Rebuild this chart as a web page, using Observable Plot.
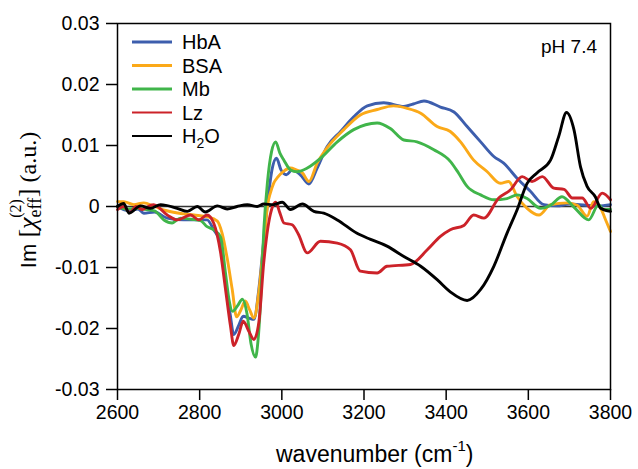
<!DOCTYPE html>
<html><head><meta charset="utf-8">
<script src="https://cdn.jsdelivr.net/npm/d3@7"></script>
<script src="https://cdn.jsdelivr.net/npm/@observablehq/plot@0.6"></script>
<style>html,body{margin:0;padding:0;background:#fff;overflow:hidden}svg{display:block}</style>
</head><body><div id="chart"></div>
<script>
// ---- data ----
const seriesNames = ["HbA", "BSA", "Mb", "Lz", "H2O"];
const seriesColors = ["#3d5ead", "#fba918", "#40b54a", "#cc2229", "#000000"];
const xTicks = [2600, 2800, 3000, 3200, 3400, 3600, 3800];
const yTicks = [-0.03, -0.02, -0.01, 0, 0.01, 0.02, 0.03];
const yTickLabels = ["-0.03", "-0.02", "-0.01", "0", "0.01", "0.02", "0.03"];

const hbaWn = [2600,2615,2630,2650,2664,2690,2721,2761,2800,2818,2834,2851,2863,2875,2883,2895,2906,2920,2932,2944,2956,2966,2976,2987,2998,3011,3025,3045,3066,3086,3110,3143,3175,3208,3248,3297,3320,3346,3386,3419,3451,3484,3516,3540,3573,3605,3638,3670,3700,3740,3770,3800];
const hbaVal = [0,-0.0005,-0.0007,-0.0004,-0.0011,-0.0009,-0.0019,-0.0022,-0.0022,-0.0022,-0.0038,-0.006,-0.012,-0.018,-0.021,-0.0195,-0.018,-0.0183,-0.0185,-0.0136,-0.0055,0.001,0.006,0.0079,0.006,0.0052,0.006,0.0052,0.0037,0.0063,0.0098,0.0123,0.0147,0.0165,0.017,0.0164,0.0168,0.0173,0.0163,0.0155,0.0131,0.0106,0.0082,0.0071,0.0046,0.0025,0.0003,0.0001,0.0004,0.0002,0.0001,0.0003];

const bsaWn = [2600,2615,2640,2664,2690,2720,2760,2786,2820,2843,2855,2867,2879,2890,2900,2911,2922,2932,2944,2956,2966,2972,2980,2990,3005,3021,3035,3050,3066,3086,3110,3151,3191,3232,3272,3305,3338,3378,3410,3435,3467,3500,3532,3552,3573,3597,3626,3654,3695,3719,3743,3759,3776,3790,3800];
const bsaVal = [0.0008,0.0008,0.0003,0.0006,0,-0.0007,-0.0012,-0.0014,-0.0017,-0.0024,-0.0045,-0.0085,-0.0135,-0.0181,-0.017,-0.0155,-0.017,-0.0183,-0.014,-0.006,0.0005,0.0022,0.0038,0.0048,0.0058,0.0063,0.006,0.0055,0.0041,0.0071,0.0096,0.0126,0.015,0.0159,0.0165,0.0161,0.0153,0.0131,0.0123,0.0106,0.0076,0.0057,0.0038,0.0041,0.0016,-0.0003,-0.0014,0.0003,0.0006,0.0002,-0.0016,0.0008,-0.0003,-0.0025,-0.0041];

const mbWn = [2600,2620,2650,2670,2690,2713,2733,2753,2780,2802,2818,2834,2851,2863,2872,2880,2892,2904,2915,2925,2936,2942,2948,2956,2965,2975,2985,2995,3005,3021,3037,3062,3094,3135,3175,3232,3264,3297,3329,3370,3410,3430,3451,3484,3516,3548,3573,3597,3630,3654,3682,3711,3747,3771,3783,3800];
const mbVal = [0,-0.0004,-0.0003,-0.0005,-0.0007,-0.0022,-0.0027,-0.0019,-0.0021,-0.0023,-0.0033,-0.0038,-0.005,-0.011,-0.0155,-0.0172,-0.0163,-0.0152,-0.0175,-0.0225,-0.0247,-0.022,-0.016,-0.004,0.004,0.009,0.0106,0.0088,0.0076,0.006,0.0057,0.0063,0.0079,0.0106,0.0126,0.0137,0.0128,0.0109,0.0106,0.0093,0.0074,0.0055,0.0033,0.0019,0.0011,0.0013,0.0019,0.0013,-0.0003,0.0002,0.0016,-0.0001,-0.0022,0.0003,-0.0005,-0.0005];

const lzWn = [2600,2615,2630,2645,2660,2675,2688,2721,2745,2778,2798,2818,2834,2851,2863,2875,2883,2895,2906,2920,2932,2944,2956,2966,2975,2985,2995,3005,3025,3040,3062,3094,3135,3167,3191,3232,3256,3313,3354,3386,3410,3443,3467,3492,3528,3556,3585,3609,3634,3662,3687,3707,3731,3752,3780,3800];
const lzVal = [-0.0005,0,-0.001,0,-0.0005,0,0.0003,-0.0014,-0.0022,-0.0014,-0.0022,-0.0014,-0.0027,-0.0076,-0.0136,-0.0196,-0.0228,-0.021,-0.0188,-0.0205,-0.0218,-0.019,-0.0092,-0.0035,-0.0005,0.0007,-0.001,-0.0027,-0.003,-0.0045,-0.0076,-0.0057,-0.006,-0.0071,-0.0106,-0.0109,-0.0098,-0.0095,-0.0071,-0.0049,-0.0038,-0.0031,-0.0014,-0.0019,0.0014,0.0027,0.0049,0.0041,0.0049,0.003,0.0028,0.0014,0.0014,-0.0003,0.0022,0.0011];

const h2oWn = [2600,2615,2628,2656,2680,2705,2745,2770,2794,2814,2843,2867,2891,2916,2940,2956,2980,3001,3021,3050,3078,3102,3135,3183,3216,3256,3297,3338,3378,3410,3451,3484,3516,3548,3573,3597,3621,3654,3674,3693,3711,3727,3743,3763,3776,3800];
const h2oVal = [0,0.0005,-0.0011,0.0001,-0.0003,0.0003,-0.0003,-0.0008,0,-0.0009,0.0001,-0.0004,0,0.0003,0,0.0004,0.0003,0.0007,-0.0005,0.0004,-0.0008,-0.0011,-0.0022,-0.0044,-0.0054,-0.0065,-0.0082,-0.0098,-0.012,-0.014,-0.0154,-0.0136,-0.0098,-0.0044,-0.0005,0.0038,0.0055,0.0076,0.0115,0.0154,0.0126,0.0065,0.0033,0.0016,-0.0003,-0.0008];

// ---- build table ----
const seriesWn = [hbaWn, bsaWn, mbWn, lzWn, h2oWn];
const seriesVal = [hbaVal, bsaVal, mbVal, lzVal, h2oVal];
const rows = [];
seriesNames.forEach((name, i) => {
  seriesWn[i].forEach((w, j) => rows.push({series: name, wn: w, val: seriesVal[i][j]}));
});
const yLabelMap = new Map(yTicks.map((t, i) => [t, yTickLabels[i]]));

const sans = "'Liberation Sans', Arial, Helvetica, sans-serif";
const serif = "'Liberation Serif', 'Times New Roman', serif";

const chart = Plot.plot({
  width: 638, height: 469,
  marginLeft: 117, marginRight: 28, marginTop: 23, marginBottom: 80,
  style: {fontFamily: sans, fontSize: "19.5px", background: "#fff", color: "#000"},
  x: {domain: [2600, 3800]},
  y: {domain: [-0.03, 0.03]},
  color: {domain: seriesNames, range: seriesColors},
  marks: [
    Plot.ruleY([0], {stroke: "#333", strokeWidth: 1.5}),
    Plot.line(rows, {x: "wn", y: "val", z: "series", stroke: "series", strokeWidth: 2.9, curve: "monotone-x"}),
    Plot.frame({stroke: "#000", strokeWidth: 1.5}),
    Plot.axisX({ticks: xTicks, tickFormat: d => String(d), tickSize: 11, tickPadding: 5, strokeWidth: 1.5, fontSize: 19.5, label: null}),
    Plot.axisY({ticks: yTicks, tickFormat: d => yLabelMap.get(d), tickSize: 11, tickPadding: 7, strokeWidth: 1.5, fontSize: 19.5, label: null})
  ]
});
document.getElementById("chart").appendChild(chart);

// ---- annotations: legend, axis titles, pH ----
const svg = d3.select(chart);
const legendYs = [42, 65.5, 89, 112.5, 136];
const legendWidths = [3, 3, 3, 2.2, 2.2];
const lg = svg.append("g").attr("text-anchor", "start");
seriesNames.forEach((name, i) => {
  lg.append("line").attr("x1", 132).attr("x2", 172).attr("y1", legendYs[i]).attr("y2", legendYs[i])
    .attr("stroke", seriesColors[i]).attr("stroke-width", legendWidths[i]);
  const t = lg.append("text").attr("x", 182).attr("y", legendYs[i] + 7)
    .attr("text-anchor", "start")
    .attr("font-family", sans).attr("font-size", 20).attr("fill", "#000");
  if (name === "H2O") {
    t.append("tspan").text("H");
    t.append("tspan").attr("font-size", 14).attr("dy", 5).text("2");
    t.append("tspan").attr("dy", -5).text("O");
  } else t.text(name);
});

svg.append("text").attr("x", 597).attr("y", 53).attr("text-anchor", "end")
  .attr("font-family", sans).attr("font-size", 19).text("pH 7.4");

const xl = svg.append("text").attr("x", 276).attr("y", 462).attr("text-anchor", "start")
  .attr("font-family", sans).attr("font-size", 23);
xl.append("tspan").text("wavenumber (cm");
xl.append("tspan").attr("font-size", 15).attr("dy", -11).text("-1");
xl.append("tspan").attr("dy", 11).text(")");

const yl = svg.append("text").attr("transform", "translate(36,200) rotate(-90)")
  .attr("text-anchor", "middle").attr("font-family", serif).attr("font-size", 26);
yl.append("tspan").attr("font-family", sans).attr("font-size", 22).text("Im ");
yl.append("tspan").text("[");
yl.append("tspan").attr("font-style", "italic").text("χ");
yl.append("tspan").attr("font-size", 18).attr("dy", 5).text("eff");
yl.append("tspan").attr("font-size", 16).attr("dx", -20).attr("dy", -20).text("(2)");
yl.append("tspan").attr("dx", 2).attr("dy", 15).text("]");
yl.append("tspan").attr("font-size", 24).text(" (a.u.)");
</script></body></html>
